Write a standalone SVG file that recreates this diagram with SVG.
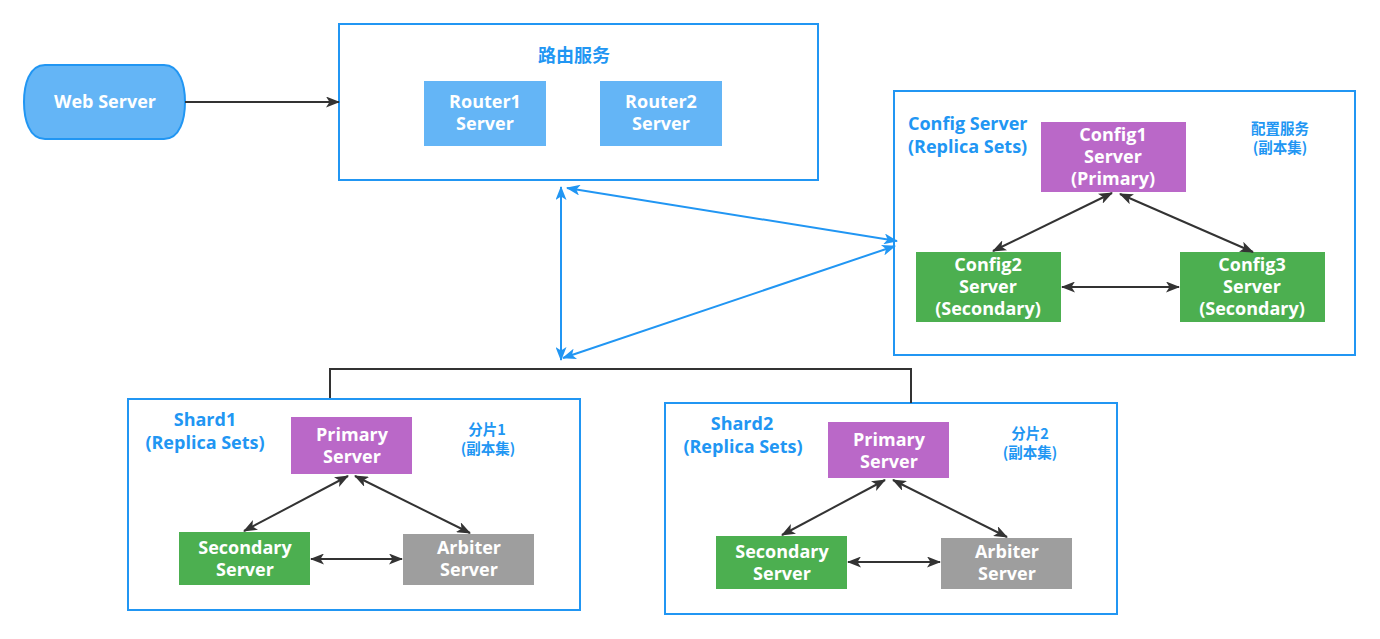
<svg xmlns="http://www.w3.org/2000/svg" width="1380" height="639" viewBox="0 0 1380 639">
  <style>
    .frame { fill: #ffffff; stroke: #2196f3; stroke-width: 2; }
    .lbl { font-family: "Open Sans", "Noto Sans CJK SC", sans-serif; font-weight: bold; fill: #ffffff; font-size: 18px; text-anchor: middle; }
    .title { font-family: "Open Sans", "Noto Sans CJK SC", sans-serif; font-weight: bold; fill: #2196f3; font-size: 18px; }
    .cn { font-family: "Noto Sans CJK SC", sans-serif; font-weight: bold; fill: #2196f3; font-size: 14.5px; text-anchor: middle; }
    .router { fill: #64b5f6; }
    .primary { fill: #ba68c8; }
    .secondary { fill: #4caf50; }
    .arbiter { fill: #9e9e9e; }
    .dark { fill: none; stroke: #333333; stroke-width: 2; }
    .blue { fill: none; stroke: #2196f3; stroke-width: 2; }
  </style>
  <defs>
    <marker id="arrDark" viewBox="0 0 14 11" refX="13" refY="5.5" markerWidth="14" markerHeight="11" markerUnits="userSpaceOnUse" orient="auto-start-reverse">
      <path d="M0,0 L14,5.5 L0,11 L3.5,5.5 Z" fill="#333333"/>
    </marker>
    <marker id="arrBlue" viewBox="0 0 14 11" refX="13" refY="5.5" markerWidth="14" markerHeight="11" markerUnits="userSpaceOnUse" orient="auto-start-reverse">
      <path d="M0,0 L14,5.5 L0,11 L3.5,5.5 Z" fill="#2196f3"/>
    </marker>
  </defs>

  <!-- group frames -->
  <g id="router-service">
    <rect class="frame" x="339" y="24" width="479" height="156"/>
    <text class="title" x="574" y="62" text-anchor="middle" font-family="Noto Sans CJK SC, sans-serif" font-size="18">路由服务</text>
  </g>
  <g id="config-service">
    <rect class="frame" x="894" y="91" width="461" height="264"/>
    <text class="title" x="908" y="130">Config Server</text>
    <text class="title" x="908" y="153">(Replica Sets)</text>
    <text class="cn" x="1280" y="134">配置服务</text>
    <text class="cn" x="1280" y="153">(副本集)</text>
  </g>
  <g id="shard1">
    <rect class="frame" x="128" y="399" width="452" height="211"/>
    <text class="title" x="205" y="426" text-anchor="middle">Shard1</text>
    <text class="title" x="205" y="449" text-anchor="middle">(Replica Sets)</text>
    <text class="cn" x="487" y="435">分片1</text>
    <text class="cn" x="488" y="454">(副本集)</text>
  </g>
  <g id="shard2">
    <rect class="frame" x="665" y="403" width="452" height="211"/>
    <text class="title" x="742" y="430" text-anchor="middle">Shard2</text>
    <text class="title" x="743" y="453" text-anchor="middle">(Replica Sets)</text>
    <text class="cn" x="1030" y="439">分片2</text>
    <text class="cn" x="1030" y="458">(副本集)</text>
  </g>

  <!-- nodes -->
  <g id="web-server">
    <path d="M45,65 H164 C180,65 185,85 185,102 C185,119 180,139 164,139 H45 C29,139 24,119 24,102 C24,85 29,65 45,65 Z" fill="#64b5f6" stroke="#2196f3" stroke-width="2"/>
    <text class="lbl" x="105" y="108">Web Server</text>
  </g>
  <g id="router1">
    <rect class="router" x="424" y="81" width="122" height="65"/>
    <text class="lbl" x="485" y="108">Router1</text>
    <text class="lbl" x="485" y="130">Server</text>
  </g>
  <g id="router2">
    <rect class="router" x="600" y="81" width="122" height="65"/>
    <text class="lbl" x="661" y="108">Router2</text>
    <text class="lbl" x="661" y="130">Server</text>
  </g>
  <g id="config1">
    <rect class="primary" x="1041" y="122" width="145" height="70"/>
    <text class="lbl" x="1113" y="141">Config1</text>
    <text class="lbl" x="1113" y="163">Server</text>
    <text class="lbl" x="1113" y="185">(Primary)</text>
  </g>
  <g id="config2">
    <rect class="secondary" x="916" y="252" width="145" height="70"/>
    <text class="lbl" x="988" y="271">Config2</text>
    <text class="lbl" x="988" y="293">Server</text>
    <text class="lbl" x="988" y="315">(Secondary)</text>
  </g>
  <g id="config3">
    <rect class="secondary" x="1180" y="252" width="145" height="70"/>
    <text class="lbl" x="1252" y="271">Config3</text>
    <text class="lbl" x="1252" y="293">Server</text>
    <text class="lbl" x="1252" y="315">(Secondary)</text>
  </g>
  <g id="shard1-primary">
    <rect class="primary" x="291" y="417" width="121" height="57"/>
    <text class="lbl" x="352" y="441">Primary</text>
    <text class="lbl" x="352" y="463">Server</text>
  </g>
  <g id="shard1-secondary">
    <rect class="secondary" x="179" y="532" width="131" height="53"/>
    <text class="lbl" x="245" y="554">Secondary</text>
    <text class="lbl" x="245" y="576">Server</text>
  </g>
  <g id="shard1-arbiter">
    <rect class="arbiter" x="403" y="534" width="131" height="51"/>
    <text class="lbl" x="469" y="554">Arbiter</text>
    <text class="lbl" x="469" y="576">Server</text>
  </g>
  <g id="shard2-primary">
    <rect class="primary" x="828" y="422" width="121" height="56"/>
    <text class="lbl" x="889" y="446">Primary</text>
    <text class="lbl" x="889" y="468">Server</text>
  </g>
  <g id="shard2-secondary">
    <rect class="secondary" x="716" y="536" width="131" height="53"/>
    <text class="lbl" x="782" y="558">Secondary</text>
    <text class="lbl" x="782" y="580">Server</text>
  </g>
  <g id="shard2-arbiter">
    <rect class="arbiter" x="941" y="538" width="131" height="51"/>
    <text class="lbl" x="1007" y="558">Arbiter</text>
    <text class="lbl" x="1007" y="580">Server</text>
  </g>

  <!-- connectors -->
  <g id="connectors">
    <line class="dark" x1="185" y1="102" x2="339" y2="102" marker-end="url(#arrDark)"/>
    <path class="dark" d="M330,398 V369 H911 V403"/>

    <line class="blue" x1="561" y1="187" x2="561" y2="360" marker-start="url(#arrBlue)" marker-end="url(#arrBlue)"/>
    <line class="blue" x1="567" y1="188" x2="897" y2="241" marker-start="url(#arrBlue)" marker-end="url(#arrBlue)"/>
    <line class="blue" x1="563" y1="358" x2="895" y2="246" marker-start="url(#arrBlue)" marker-end="url(#arrBlue)"/>

    <line class="dark" x1="1112" y1="193" x2="993" y2="251" marker-start="url(#arrDark)" marker-end="url(#arrDark)"/>
    <line class="dark" x1="1120" y1="194" x2="1253" y2="252" marker-start="url(#arrDark)" marker-end="url(#arrDark)"/>
    <line class="dark" x1="1062" y1="287" x2="1179" y2="287" marker-start="url(#arrDark)" marker-end="url(#arrDark)"/>

    <line class="dark" x1="348" y1="476" x2="244" y2="531" marker-start="url(#arrDark)" marker-end="url(#arrDark)"/>
    <line class="dark" x1="355" y1="476" x2="470" y2="533" marker-start="url(#arrDark)" marker-end="url(#arrDark)"/>
    <line class="dark" x1="311" y1="559" x2="402" y2="559" marker-start="url(#arrDark)" marker-end="url(#arrDark)"/>

    <line class="dark" x1="885" y1="480" x2="782" y2="535" marker-start="url(#arrDark)" marker-end="url(#arrDark)"/>
    <line class="dark" x1="893" y1="480" x2="1007" y2="537" marker-start="url(#arrDark)" marker-end="url(#arrDark)"/>
    <line class="dark" x1="848" y1="562" x2="940" y2="562" marker-start="url(#arrDark)" marker-end="url(#arrDark)"/>
  </g>
</svg>
